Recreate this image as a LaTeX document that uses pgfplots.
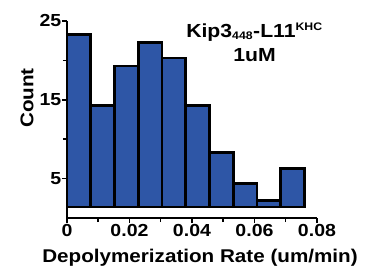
\documentclass[border=0pt]{standalone}
\usepackage{fontspec}
\setmainfont{Liberation Sans}[FakeStretch=1.12]
\usepackage{pgfplots}
\pgfplotsset{compat=1.18}
\definecolor{barblue}{RGB}{46,86,166}
\begin{document}
\begin{tikzpicture}
\begin{axis}[
  scale only axis,
  width=250bp, height=197bp,
  xmin=0, xmax=0.08, ymin=0, ymax=25,
  axis lines*=left,
  axis line style={line width=1.5bp, black},
  tick align=outside,
  major tick length=5bp, minor tick length=4bp,
  tick style={black, line width=1.5bp},
  scaled x ticks=false,
  xtick={0,0.02,0.04,0.06,0.08},
  xticklabels={0,0.02,0.04,0.06,0.08},
  minor xtick={0.01,0.03,0.05,0.07},
  ytick={5,15,25},
  yticklabels={5,15,25},
  minor ytick={10,20},
  ticklabel style={font=\bfseries\fontsize{17.5}{18}\selectfont},
  xticklabel style={inner sep=1bp},
  yticklabel style={inner sep=0.5bp},
  xlabel={Depolymerization Rate (um/min)},
  ylabel={Count},
  label style={font=\bfseries\fontsize{18.5}{20}\selectfont},
  xlabel style={at={(axis description cs:0.532,-0.2)}, anchor=center},
  ylabel style={at={(axis description cs:-0.16,0.609)}, anchor=center, rotate=0},
  ybar stacked,
  bar width=0.0076,
  clip=false,
]
\addplot[draw=none, fill=none] coordinates {
  (0.0038,1.4) (0.0114,1.4) (0.0190,1.4) (0.0266,1.4) (0.0342,1.4)
  (0.0418,1.4) (0.0494,1.4) (0.0570,1.4) (0.0646,1.4) (0.0722,1.4)};
\addplot[draw=black, line width=2.8bp, fill=barblue] coordinates {
  (0.0038,21.9) (0.0114,12.9) (0.0190,17.9) (0.0266,20.9) (0.0342,18.9)
  (0.0418,12.9) (0.0494,6.9) (0.0570,3.0) (0.0646,0.8) (0.0722,4.9)};
\node[align=center, font=\bfseries\fontsize{19}{25}\selectfont, inner sep=0pt, anchor=north]
  at (axis description cs:0.75,0.99)
  {Kip3\textsubscript{\fontsize{11}{11}\selectfont 448}-L11\textsuperscript{\fontsize{11}{11}\selectfont KHC}\\1uM};
\end{axis}
\pgfresetboundingbox
\path[use as bounding box] (-67bp,-48bp) rectangle (302bp,218bp);
\end{tikzpicture}
\end{document}
